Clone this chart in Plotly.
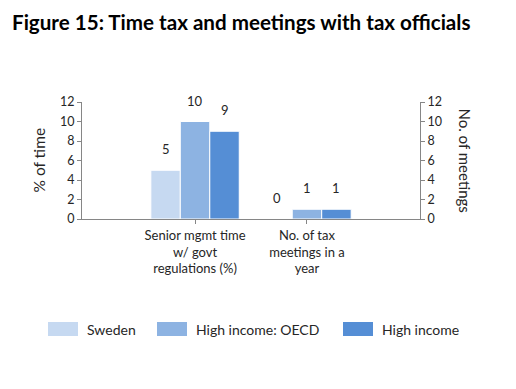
import plotly.graph_objects as go

categories = ["Senior mgmt time<br>w/ govt<br>regulations (%)", "No. of tax<br>meetings in a<br>year"]
series_names = ["Sweden", "High income: OECD", "High income"]
series_values = [
    [5, 0],
    [10, 1],
    [9, 1],
]
colors = ["#C6D9F1", "#8DB3E2", "#558ED5"]
y_ticks = [0, 2, 4, 6, 8, 10, 12]

FONT = "Lato"
TXT = "#262626"
bargap = 0.21
n = len(series_names)
w = (1 - bargap) / n
xs = list(range(len(categories)))

# plot area in figure pixels
L, T, PW, PH = 74, 94, 338, 117
W, H = 508, 381

fig = go.Figure()
for j, (name, vals, col) in enumerate(zip(series_names, series_values, colors)):
    fig.add_trace(go.Bar(
        x=xs, y=vals, name=name,
        marker=dict(color=col, line=dict(color="white", width=1)),
        showlegend=False,
    ))
    for i, v in enumerate(vals):
        fig.add_annotation(x=i + (j - (n - 1) / 2) * w, y=v, text=str(v),
                           showarrow=False, yshift=21, xref="x", yref="y",
                           font=dict(family=FONT, size=13, color=TXT))

# dummy trace for the secondary axis
fig.add_trace(go.Scatter(x=[0], y=[0], yaxis="y2", mode="markers",
                         marker=dict(opacity=0), showlegend=False, hoverinfo="skip"))

axis_col = "#868686"
fig.update_layout(
    width=W, height=H,
    margin=dict(l=L, r=W - L - PW, t=T, b=H - T - PH, pad=0),
    paper_bgcolor="white", plot_bgcolor="white",
    barmode="group", bargap=bargap, bargroupgap=0,
    font=dict(family=FONT, size=12, color=TXT),
    xaxis=dict(range=[-1.01, 2.01], tickvals=xs, ticktext=categories,
               showline=True, linecolor=axis_col, linewidth=1,
               ticks="outside", ticklen=4, tickcolor=axis_col,
               showgrid=False, zeroline=False,
               tickfont=dict(family=FONT, size=13, color=TXT)),
    yaxis=dict(range=[0, 12], tickvals=y_ticks, showline=True, linecolor=axis_col,
               ticks="outside", ticklen=4, tickcolor=axis_col, showgrid=False,
               zeroline=False, tickfont=dict(family=FONT, size=12.5, color=TXT)),
    yaxis2=dict(range=[0, 12], tickvals=y_ticks, overlaying="y", side="right",
                showline=True, linecolor=axis_col, ticks="outside", ticklen=4,
                tickcolor=axis_col, showgrid=False, zeroline=False,
                tickfont=dict(family=FONT, size=12.5, color=TXT)),
)

# axis titles
fig.add_annotation(text="% of time", textangle=-90, showarrow=False,
                   xref="paper", yref="paper", x=0, xshift=-44, y=0.5,
                   xanchor="center", yanchor="middle",
                   font=dict(family=FONT, size=15.5, color=TXT))
fig.add_annotation(text="No. of meetings", textangle=90, showarrow=False,
                   xref="paper", yref="paper", x=1.0, xshift=45, y=0.5,
                   xanchor="center", yanchor="middle",
                   font=dict(family=FONT, size=15, color=TXT))

# title
fig.add_annotation(text="<b>Figure 15: Time tax and meetings with tax officials</b>",
                   showarrow=False, xref="paper", yref="paper", xanchor="left", yanchor="middle",
                   x=(2 - L) / PW, y=(T + PH - 14) / PH,
                   font=dict(family=FONT, size=20.6, color="black"))

# manual legend
leg_x = [40, 149, 335]
for name, col, lx in zip(series_names, colors, leg_x):
    fig.add_shape(type="rect", xref="paper", yref="paper",
                  x0=(lx - L) / PW, x1=(lx + 30 - L) / PW,
                  y0=(T + PH - 328) / PH, y1=(T + PH - 314) / PH,
                  fillcolor=col, line=dict(width=0))
    fig.add_annotation(text=name, showarrow=False, xref="paper", yref="paper",
                       x=(lx + 37 - L) / PW, y=(T + PH - 321) / PH,
                       xanchor="left", yanchor="middle",
                       font=dict(family=FONT, size=14, color=TXT))

fig.write_html("out.html")
